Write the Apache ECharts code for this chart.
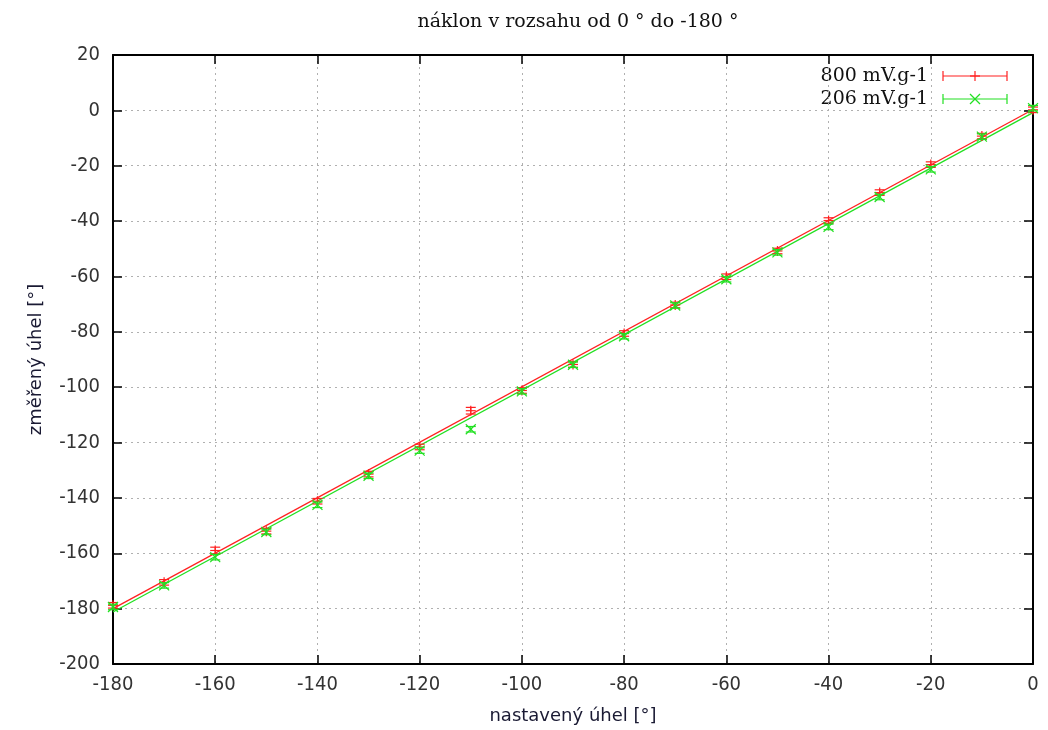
<!DOCTYPE html>
<html><head><meta charset="utf-8">
<script src="https://cdn.jsdelivr.net/npm/echarts@6/dist/echarts.min.js"></script>
<style>html,body{margin:0;padding:0;background:#fff}#c{width:1048px;height:730px}</style>
</head><body><div id="c"></div>
<script>
var setAngles = [0,-10,-20,-30,-40,-50,-60,-70,-80,-90,-100,-110,-120,-130,-140,-150,-160,-170,-180];
var red800 = [0.2,-9.3,-19.6,-29.7,-39.8,-50.8,-60.1,-70.3,-80.6,-91.8,-101.2,-108.5,-121.6,-131.4,-141.2,-152.0,-159.0,-170.5,-178.8];
var green206 = [0.8,-9.5,-21.3,-31.3,-42.1,-51.3,-61.0,-70.5,-81.6,-91.9,-101.5,-115.2,-122.9,-132.0,-142.5,-152.3,-161.4,-171.6,-179.4];
var redErr = [1,1,1,1,1,1,1,1,1,1,1,1.2,1,1,1,1,1.2,1,1];
var greenErr = [1,1,1,1,1,1,1,1,1,1,1,1,1,1,1,1,1,1,1];
var redFit = [[-180,-180.0],[0,0.3]];
var greenFit = [[-180,-181.2],[0,-0.8]];
var xTicks = {min:-180,max:0,step:20};
var yTicks = {min:-200,max:20,step:20};

var RED = '#ff2020', GREEN = '#22e022';

function build(xs, ys, es){
  return xs.map(function(x,i){return [x, ys[i], ys[i]-es[i], ys[i]+es[i]];});
}
function errRender(color, markerType){
  return function(params, api){
    var c = api.coord([api.value(0), api.value(1)]);
    var lo = api.coord([api.value(0), api.value(2)]);
    var hi = api.coord([api.value(0), api.value(3)]);
    var w = 5, m = 5;
    var st = {stroke: color, lineWidth: 1.2};
    var ch = [
      {type:'line', shape:{x1:c[0],y1:lo[1],x2:c[0],y2:hi[1]}, style:st},
      {type:'line', shape:{x1:c[0]-w,y1:lo[1],x2:c[0]+w,y2:lo[1]}, style:st},
      {type:'line', shape:{x1:c[0]-w,y1:hi[1],x2:c[0]+w,y2:hi[1]}, style:st}
    ];
    if(markerType==='plus'){
      ch.push({type:'line', shape:{x1:c[0]-m,y1:c[1],x2:c[0]+m,y2:c[1]}, style:st});
      ch.push({type:'line', shape:{x1:c[0],y1:c[1]-m,x2:c[0],y2:c[1]+m}, style:st});
    } else {
      ch.push({type:'line', shape:{x1:c[0]-m,y1:c[1]-m,x2:c[0]+m,y2:c[1]+m}, style:st});
      ch.push({type:'line', shape:{x1:c[0]-m,y1:c[1]+m,x2:c[0]+m,y2:c[1]-m}, style:st});
    }
    return {type:'group', children: ch};
  };
}

var chart = echarts.init(document.getElementById('c'), null, {renderer:'canvas'});
var axisLabelStyle = {color:'#333', fontSize:20, fontFamily:'"DejaVu Sans Condensed", "DejaVu Sans"'};
var gridLine = {show:true, lineStyle:{color:'#b0b0b0', type:[2,4], width:1}};
var serifFont = '"DejaVu Serif"';

function legendItem(y, label, color, type){
  var st = {stroke: color, lineWidth: 1.2};
  var x1 = 943, x2 = 1007, xm = 975, m = 5;
  var ch = [
    {type:'text', x:928, y:y, style:{text:label, fill:'#111', font:'19px '+serifFont, textAlign:'right', textVerticalAlign:'middle'}},
    {type:'line', shape:{x1:x1,y1:y,x2:x2,y2:y}, style:st},
    {type:'line', shape:{x1:x1,y1:y-5,x2:x1,y2:y+5}, style:st},
    {type:'line', shape:{x1:x2,y1:y-5,x2:x2,y2:y+5}, style:st}
  ];
  if(type==='plus'){
    ch.push({type:'line', shape:{x1:xm-m,y1:y,x2:xm+m,y2:y}, style:st});
    ch.push({type:'line', shape:{x1:xm,y1:y-m,x2:xm,y2:y+m}, style:st});
  } else {
    ch.push({type:'line', shape:{x1:xm-m,y1:y-m,x2:xm+m,y2:y+m}, style:st});
    ch.push({type:'line', shape:{x1:xm-m,y1:y+m,x2:xm+m,y2:y-m}, style:st});
  }
  return {type:'group', children:ch};
}

chart.setOption({
  animation:false,
  backgroundColor:'#fff',
  title:{text:'náklon v rozsahu od 0 ° do -180 °', left:573, top:8, textAlign:'center',
    textStyle:{fontFamily:'DejaVu Serif', fontSize:19, fontWeight:'normal', color:'#111'}},
  grid:{left:113, right:15, top:55, bottom:65},
  xAxis:[{
    type:'value', min:xTicks.min, max:xTicks.max, interval:xTicks.step, position:'bottom',
    name:'nastavený úhel [°]', nameLocation:'middle', nameGap:43,
    nameTextStyle:{fontSize:18, fontFamily:'DejaVu Sans', color:'#1a1a33'},
    axisLine:{show:true, onZero:false, lineStyle:{color:'#000', width:2}},
    axisTick:{show:true, inside:true, length:9, lineStyle:{color:'#000', width:1.5}},
    axisLabel:Object.assign({margin:11}, axisLabelStyle),
    splitLine:gridLine
  },{
    type:'value', min:xTicks.min, max:xTicks.max, interval:xTicks.step, position:'top',
    axisLine:{show:true, onZero:false, lineStyle:{color:'#000', width:2}},
    axisTick:{show:true, inside:true, length:9, lineStyle:{color:'#000', width:1.5}},
    axisLabel:{show:false}, splitLine:{show:false}
  }],
  yAxis:[{
    type:'value', min:yTicks.min, max:yTicks.max, interval:yTicks.step, position:'left',
    name:'změřený úhel [°]', nameLocation:'middle', nameGap:68,
    nameTextStyle:{fontSize:18, fontFamily:'DejaVu Sans', color:'#1a1a33'},
    axisLine:{show:true, onZero:false, lineStyle:{color:'#000', width:2}},
    axisTick:{show:true, inside:true, length:9, lineStyle:{color:'#000', width:1.5}},
    axisLabel:Object.assign({margin:13}, axisLabelStyle),
    splitLine:gridLine
  },{
    type:'value', min:yTicks.min, max:yTicks.max, interval:yTicks.step, position:'right',
    axisLine:{show:true, onZero:false, lineStyle:{color:'#000', width:2}},
    axisTick:{show:true, inside:true, length:9, lineStyle:{color:'#000', width:1.5}},
    axisLabel:{show:false}, splitLine:{show:false}
  }],
  series:[
    {type:'line', name:'fit800', data:redFit, symbol:'none', lineStyle:{color:RED, width:1.3}, z:3},
    {type:'line', name:'fit206', data:greenFit, symbol:'none', lineStyle:{color:GREEN, width:1.3}, z:3},
    {type:'custom', name:'800 mV.g-1', data:build(setAngles, red800, redErr), renderItem:errRender(RED,'plus'), z:4, clip:false},
    {type:'custom', name:'206 mV.g-1', data:build(setAngles, green206, greenErr), renderItem:errRender(GREEN,'cross'), z:5, clip:false}
  ],
  graphic:[ legendItem(76, '800 mV.g-1', RED, 'plus'), legendItem(99, '206 mV.g-1', GREEN, 'cross') ]
});
</script></body></html>
